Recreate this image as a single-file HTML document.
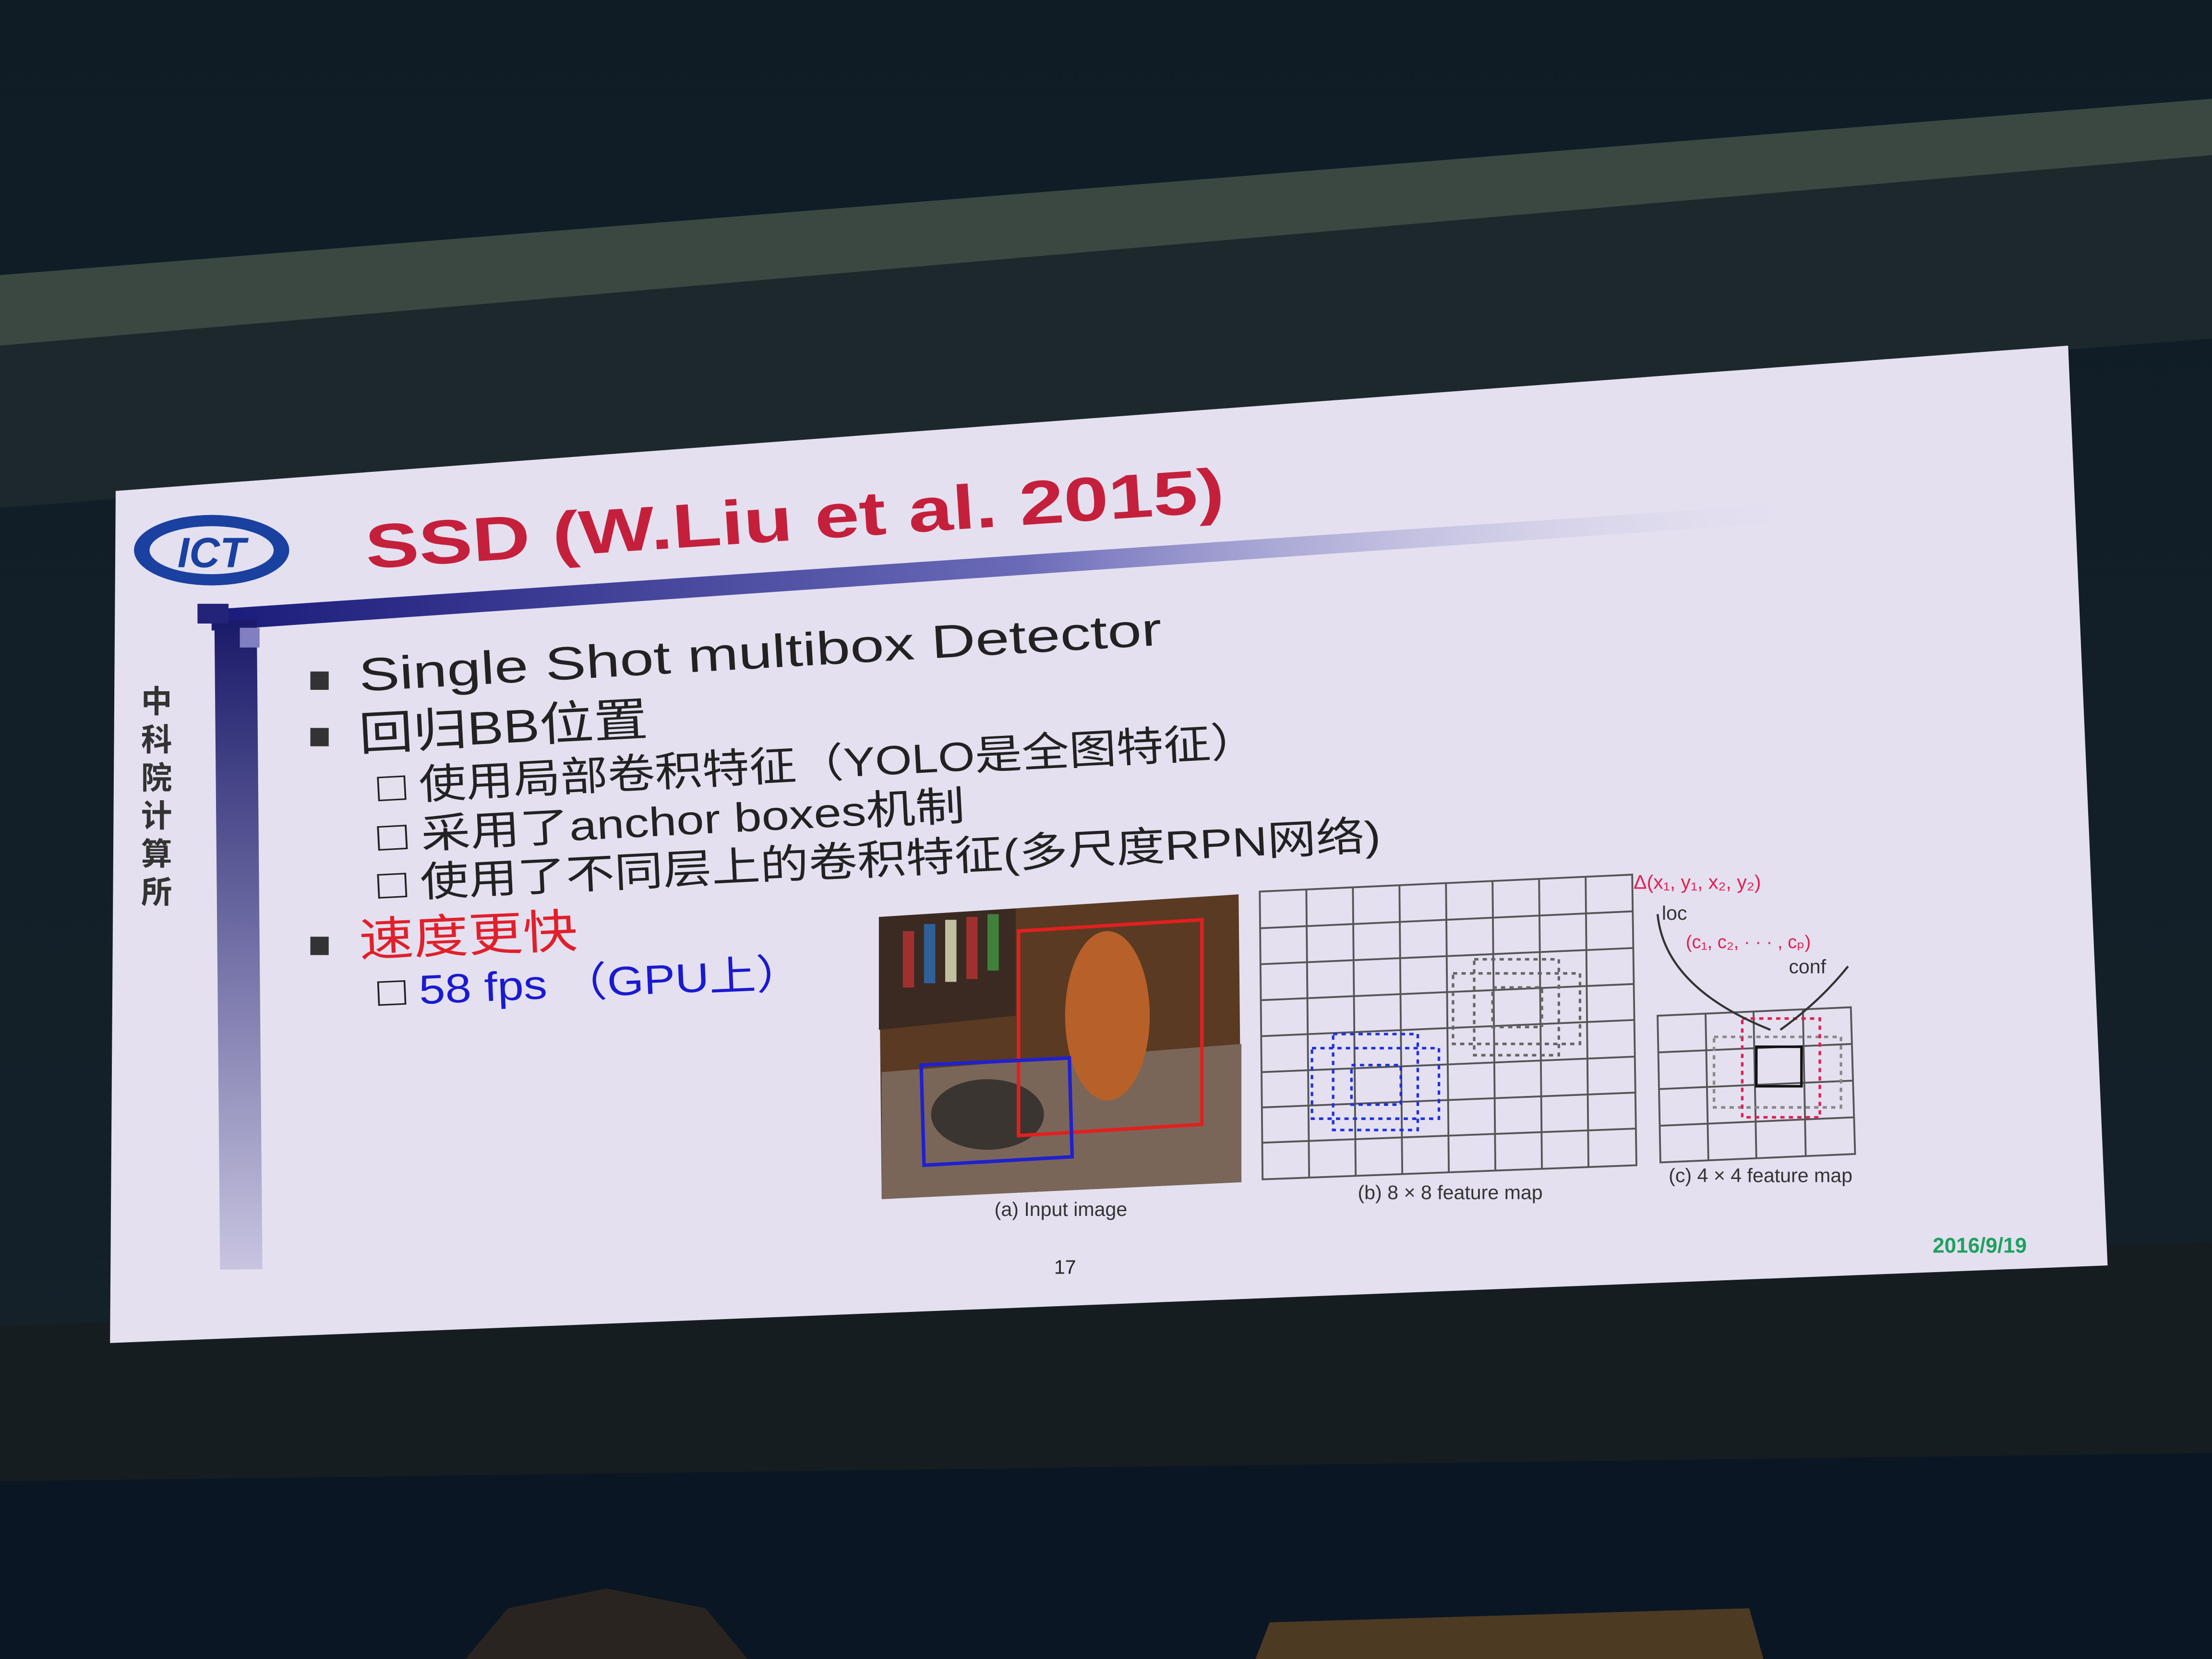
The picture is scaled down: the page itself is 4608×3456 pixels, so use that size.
<!DOCTYPE html>
<html><head><meta charset="utf-8"><style>
html,body{margin:0;padding:0;background:#0d1820;width:4608px;height:3456px;overflow:hidden;}
svg{display:block;}
text{font-family:"Liberation Sans","Noto Sans CJK SC",sans-serif;}
</style></head><body>
<svg width="4608" height="3456" viewBox="0 0 1568 1176" preserveAspectRatio="none" xmlns="http://www.w3.org/2000/svg">
<defs>
<linearGradient id="bar" x1="0" y1="0" x2="1" y2="0">
<stop offset="0" stop-color="#1a1a7a"/><stop offset="0.5" stop-color="#6a6ab8"/><stop offset="1" stop-color="#e6e2f2" stop-opacity="0"/></linearGradient>
<linearGradient id="vbar" x1="0" y1="0" x2="0" y2="1">
<stop offset="0" stop-color="#1a1a6a"/><stop offset="1" stop-color="#c8c4e0"/></linearGradient>
<linearGradient id="bg" x1="0" y1="0" x2="0" y2="1">
<stop offset="0" stop-color="#0f1c26"/><stop offset="1" stop-color="#16222a"/></linearGradient>
</defs>
<rect width="1568" height="1176" fill="url(#bg)"/>
<polygon points="0,195 1568,70 1568,110 0,245" fill="#3b4741"/>
<polygon points="0,245 1568,110 1568,240 0,360" fill="#1d282c"/>
<polygon points="0,940 1568,880 1568,1176 0,1176" fill="#161d20"/>
<polygon points="0,1050 1568,1030 1568,1176 0,1176" fill="#0a1624"/>
<polygon points="330,1176 360,1140 430,1126 500,1140 530,1176" fill="#2a2420"/>
<polygon points="890,1176 900,1150 1240,1140 1250,1176" fill="#6a4a22" opacity="0.7"/>
<polygon points="82,348 1466,245 1494,897 78,952" fill="#e4e0f0"/>
<polygon points="150,432 1300,355 1300,368 150,447" fill="url(#bar)"/>
<rect x="152" y="440" width="30" height="460" fill="url(#vbar)" transform="rotate(-0.5 152 440)"/>
<rect x="140" y="428" width="22" height="14" fill="#23237a"/>
<rect x="170" y="445" width="14" height="14" fill="#8080c0"/>
<ellipse cx="150" cy="390" rx="55" ry="25" fill="#1a40a0"/>
<ellipse cx="150" cy="390" rx="44" ry="17" fill="#e4e0f0"/>
<text x="150" y="402" font-size="30" font-weight="bold" font-style="italic" fill="#1a40a0" text-anchor="middle">ICT</text>
<text font-size="22" fill="#333" font-weight="bold"><tspan x="100" y="505">中</tspan><tspan x="100" y="532">科</tspan><tspan x="100" y="559">院</tspan><tspan x="100" y="586">计</tspan><tspan x="100" y="613">算</tspan><tspan x="100" y="640">所</tspan></text>
<text x="260" y="403" font-size="44" font-weight="bold" fill="#c4203c" textLength="610" lengthAdjust="spacingAndGlyphs" transform="rotate(-3.8 260 403)">SSD (W.Liu et al. 2015)</text>
<g fill="#222">
<rect x="220" y="476" width="13" height="13" fill="#333"/>
<text x="255" y="490" font-size="33" textLength="570" lengthAdjust="spacingAndGlyphs" transform="rotate(-3.3 255 490)">Single Shot multibox Detector</text>
<rect x="220" y="516" width="13" height="13" fill="#333"/>
<text x="255" y="532" font-size="33" textLength="205" lengthAdjust="spacingAndGlyphs" transform="rotate(-3 255 532)">回归BB位置</text>
<text x="268" y="568" font-size="29" textLength="625" lengthAdjust="spacingAndGlyphs" transform="rotate(-3 268 568)">□ 使用局部卷积特征（YOLO是全图特征）</text>
<text x="268" y="603" font-size="29" textLength="417" lengthAdjust="spacingAndGlyphs" transform="rotate(-3 268 603)">□ 采用了anchor boxes机制</text>
<text x="268" y="637" font-size="29" textLength="712" lengthAdjust="spacingAndGlyphs" transform="rotate(-2.8 268 637)">□ 使用了不同层上的卷积特征(多尺度RPN网络)</text>
<rect x="220" y="664" width="13" height="13" fill="#333"/>
<text x="255" y="678" font-size="33" fill="#e0202a" textLength="155" lengthAdjust="spacingAndGlyphs" transform="rotate(-2.5 255 678)">速度更快</text>
<text x="268" y="713" font-size="29" fill="#1a1ad0" textLength="302" lengthAdjust="spacingAndGlyphs" transform="rotate(-2.5 268 713)"><tspan fill="#222">□ </tspan>58 fps （GPU上）</text>
</g>
<polygon points="623,650 878,634 880,838 625,850" fill="#5a3a22"/>
<polygon points="623,650 720,644 720,720 623,730" fill="#3a2a22"/>
<polygon points="625,760 880,740 880,838 625,850" fill="#7a6658"/>
<g fill="#a03030"><rect x="640" y="660" width="8" height="40"/><rect x="655" y="655" width="8" height="42" fill="#30609a"/><rect x="670" y="652" width="8" height="44" fill="#c0c0a0"/><rect x="685" y="650" width="8" height="44"/><rect x="700" y="648" width="8" height="40" fill="#40803a"/></g>
<ellipse cx="785" cy="720" rx="30" ry="60" fill="#b8602a"/>
<ellipse cx="700" cy="790" rx="40" ry="25" fill="#3a3530"/>
<polygon points="722,660 852,652 852,797 722,805" fill="none" stroke="#e02020" stroke-width="2.5"/>
<polygon points="653,755 758,750 760,820 655,826" fill="none" stroke="#2020d0" stroke-width="2.5"/>
<text x="752" y="862" font-size="14" font-family="Liberation Serif" fill="#333" text-anchor="middle">(a) Input image</text>
<g stroke="#555" stroke-width="1.3" fill="none">
<polygon points="893,632 1157,620 1160,826 895,836"/>
<path d="M926,630.5 L928,835 M959,629 L961,834 M992,627.5 L994,832.5 M1025,626 L1027,831 M1058,624.5 L1060,830 M1091,623 L1093,828.5 M1124,621.5 L1126,827.5"/>
<path d="M893.3,658 L1157.4,646 M893.6,683.5 L1157.8,672 M894,709 L1158.2,697.5 M894.3,734.5 L1158.6,723 M894.6,760 L1159,749 M895,785 L1159.4,774.5 M895.3,810 L1159.8,800"/>
</g>
<g fill="none" stroke-dasharray="3,3" stroke-width="1.8">
<rect x="930" y="743" width="90" height="50" stroke="#2030e0"/><rect x="945" y="733" width="60" height="68" stroke="#2030e0"/><rect x="958" y="755" width="35" height="28" stroke="#2030e0"/>
<rect x="1030" y="690" width="90" height="50" stroke="#666"/><rect x="1045" y="680" width="60" height="68" stroke="#666"/><rect x="1058" y="700" width="35" height="28" stroke="#666"/>
</g>
<text x="1028" y="850" font-size="14" font-family="Liberation Serif" fill="#333" text-anchor="middle">(b) 8 × 8 feature map</text>
<g stroke="#555" stroke-width="1.3" fill="none">
<polygon points="1175,720 1312,714 1315,818 1177,824"/>
<path d="M1209,718.5 L1211,822.5 M1243,717 L1245,821 M1278,715.5 L1280,819.5 M1175.5,746 L1313,740 M1176,772 L1314,766 M1176.5,798 L1314.5,792"/>
</g>
<g fill="none" stroke-dasharray="3,3" stroke-width="1.8">
<rect x="1215" y="735" width="90" height="50" stroke="#888"/><rect x="1235" y="722" width="55" height="70" stroke="#e02050"/><rect x="1245" y="742" width="32" height="28" stroke="#111" stroke-dasharray="none"/>
</g>
<path d="M1175,648 Q1180,700 1255,730 M1310,685 Q1290,710 1262,730" stroke="#333" stroke-width="1.5" fill="none"/>
<text x="1158" y="630" font-size="14" font-family="Liberation Serif" fill="#e02050">Δ(x₁, y₁, x₂, y₂)</text>
<text x="1178" y="652" font-size="14" fill="#333">loc</text>
<text x="1195" y="672" font-size="13" font-family="Liberation Serif" fill="#e02050">(c₁, c₂, · · · , cₚ)</text>
<text x="1268" y="690" font-size="14" fill="#333">conf</text>
<text x="1248" y="838" font-size="14" font-family="Liberation Serif" fill="#333" text-anchor="middle">(c) 4 × 4 feature map</text>
<text x="755" y="903" font-size="14" fill="#222" text-anchor="middle">17</text>
<text x="1370" y="888" font-size="15" font-weight="bold" fill="#20a060">2016/9/19</text>
</svg>
</body></html>
